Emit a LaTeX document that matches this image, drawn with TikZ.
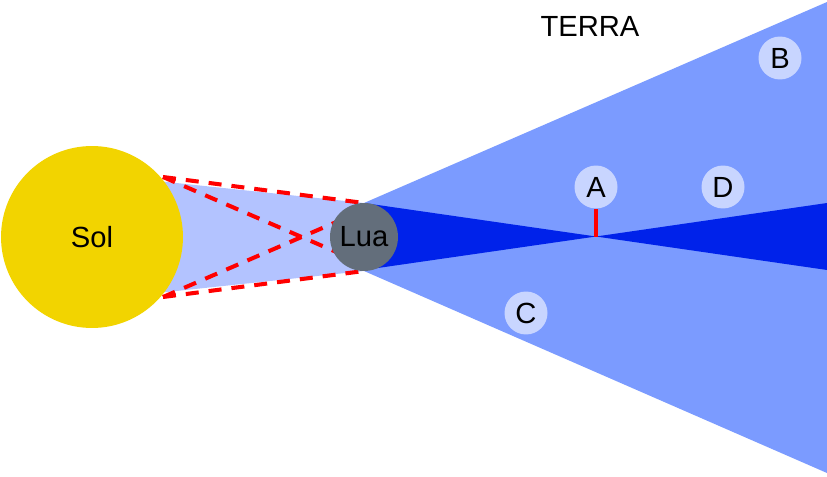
\documentclass[tikz,border=0pt]{standalone}
\usepackage{fontspec}
\setmainfont{Liberation Sans}
\usepackage{tikz}
\usetikzlibrary{calc}

\definecolor{solcor}{HTML}{F2D400}
\definecolor{luacor}{HTML}{636E7B}
\definecolor{luzcor}{HTML}{B3C3FF}
\definecolor{penumbracor}{HTML}{7B9BFF}
\definecolor{umbracor}{HTML}{0022EA}
\definecolor{rotulocor}{HTML}{C8D5FF}

\tikzset{
  texto/.style={font=\fontsize{16.6}{19}\selectfont},
  astro/.style={circle, inner sep=0pt, texto},
  rotulo/.style={circle, fill=rotulocor, minimum size=0.86cm, inner sep=0pt, texto},
  raio/.style={red, line width=2.3pt, dash pattern=on 0.26cm off 0.2cm}
}

\begin{document}
\begin{tikzpicture}[x=0.02cm, y=-0.02cm]
            \useasboundingbox (0,0) rectangle (827,476);

            % sombras
            \fill[luzcor] (120,177) -- (364,203) -- (364,271) -- (120,297) -- cycle;
            \fill[penumbracor] (364,203) -- (827,2) -- (827,473) -- (364,271) -- cycle;
            \fill[umbracor] (364,203) -- (596,236.5) -- (364,270) -- cycle;
            \fill[umbracor] (596,236.5) -- (827,203) -- (827,270) -- cycle;

            \node[astro, fill=solcor, minimum size=3.64cm] at (92,237) (sol) {Sol};

            \coordinate (S1) at (163,177);
            \coordinate (S2) at (163,297);
            \coordinate (L1) at (364,203);
            \coordinate (L2) at (364,271);
            \coordinate (L3) at (364,264);
            \coordinate (L4) at (364,210);
            \coordinate (foco) at (596,236.5);

            \draw[raio] (S1) -- (L1);
            \draw[raio] (S2) -- (L2);
            \draw[raio] (S1) -- (L3);
            \draw[raio] (S2) -- (L4);

            \node[astro, fill=luacor, minimum size=1.36cm] at (364,237) (lua) {Lua};

            \node[rotulo] at (596,187) (A) {A};
            \node[rotulo] at (780,58) (B) {B};
            \node[rotulo] at (526,313) (C) {C};
            \node[rotulo] at (723,187) (D) {D};
            \draw[red, line width=2.4pt] (A.south) -- (foco);

            \node[texto] at (590,26) (terra) {TERRA};
        \end{tikzpicture}
\end{document}
